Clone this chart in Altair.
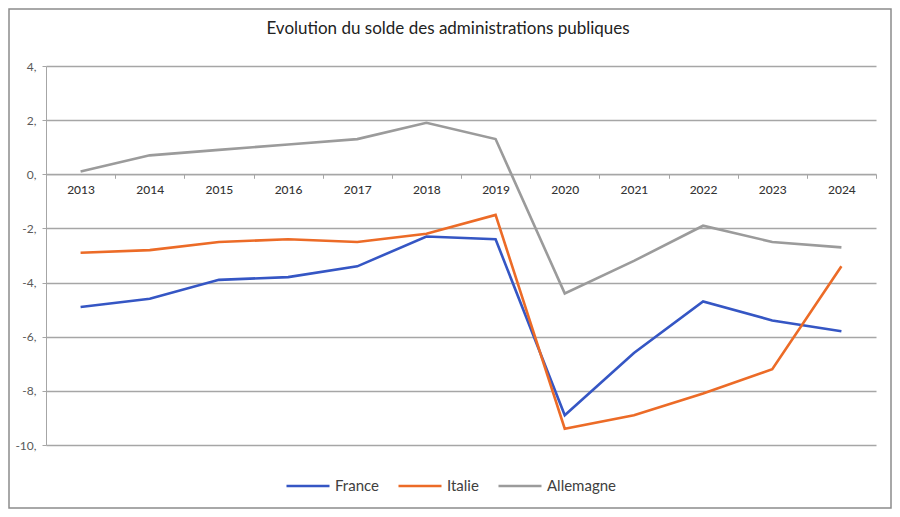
import altair as alt
import pandas as pd

years = ["2013", "2014", "2015", "2016", "2017", "2018", "2019", "2020", "2021", "2022", "2023", "2024"]
france = [-4.9, -4.6, -3.9, -3.8, -3.4, -2.3, -2.4, -8.9, -6.6, -4.7, -5.4, -5.8]
italie = [-2.9, -2.8, -2.5, -2.4, -2.5, -2.2, -1.5, -9.4, -8.9, -8.1, -7.2, -3.4]
allemagne = [0.1, 0.7, 0.9, 1.1, 1.3, 1.9, 1.3, -4.4, -3.2, -1.9, -2.5, -2.7]
series = ["France", "Italie", "Allemagne"]
colors = ["#3556C4", "#EC6B27", "#9B9B9B"]
y_ticks = [4, 2, 0, -2, -4, -6, -8, -10]
title_text = "Evolution du solde des administrations publiques"

rows = []
for name, vals in zip(series, [france, italie, allemagne]):
    for yr, v in zip(years, vals):
        rows.append({"Année": yr, "Solde": v, "Pays": name})
df = pd.DataFrame(rows)

W, H = 830, 379
ymin, ymax = -10, 4
zero_px = H * (ymax - 0) / (ymax - ymin)

font = "Lato"

lines = alt.Chart(df).mark_line(strokeWidth=2.6).encode(
    x=alt.X("Année:O", sort=years,
            scale=alt.Scale(paddingInner=0, paddingOuter=0),
            axis=alt.Axis(title=None, labelAngle=0, tickBand="extent",
                          offset=-(H - zero_px), domainColor="#a6a6a6",
                          tickColor="#a6a6a6", tickSize=4, labelPadding=6,
                          labelFontSize=12, labelColor="#333333", labelFont=font,
                          grid=False, labelFontWeight=500)),
    y=alt.Y("Solde:Q", scale=alt.Scale(domain=[ymin, ymax], nice=False),
            axis=alt.Axis(title=None, values=y_ticks, labelExpr="datum.value + ','",
                          gridColor="#a6a6a6", gridWidth=1.3, domainColor="#a6a6a6",
                          tickColor="#a6a6a6", tickSize=4, labelPadding=6,
                          labelFontSize=12, labelColor="#595959", labelFont=font)),
    color=alt.Color("Pays:N", sort=series,
                    scale=alt.Scale(domain=series, range=colors),
                    legend=alt.Legend(title=None, orient="none", direction="horizontal",
                                      legendX=239, legendY=397, symbolType="stroke",
                                      symbolStrokeWidth=2.6, symbolSize=1850,
                                      labelFontSize=15, labelColor="#404040",
                                      labelFont=font, columnPadding=14, labelOffset=4))
)

border = alt.Chart(pd.DataFrame({"b": [0]})).mark_rect(
    fill=None, stroke="#8c8c8c", strokeWidth=1.5
).encode(x=alt.value(-37), x2=alt.value(W + 15), y=alt.value(-57), y2=alt.value(H + 63))

title = alt.Chart(pd.DataFrame({"t": [title_text]})).mark_text(
    font=font, fontSize=17, color="#222222", align="center", baseline="middle"
).encode(text="t:N", x=alt.value(W / 2 - 13), y=alt.value(-37))

chart = alt.layer(border, title, lines).properties(
    width=W, height=H,
    padding={"left": 38, "top": 58, "right": 16, "bottom": 64},
    autosize=alt.AutoSizeParams(type="none"),
).configure_view(stroke=None)

chart.save("out.html", embed_options={"renderer": "svg", "actions": False})
